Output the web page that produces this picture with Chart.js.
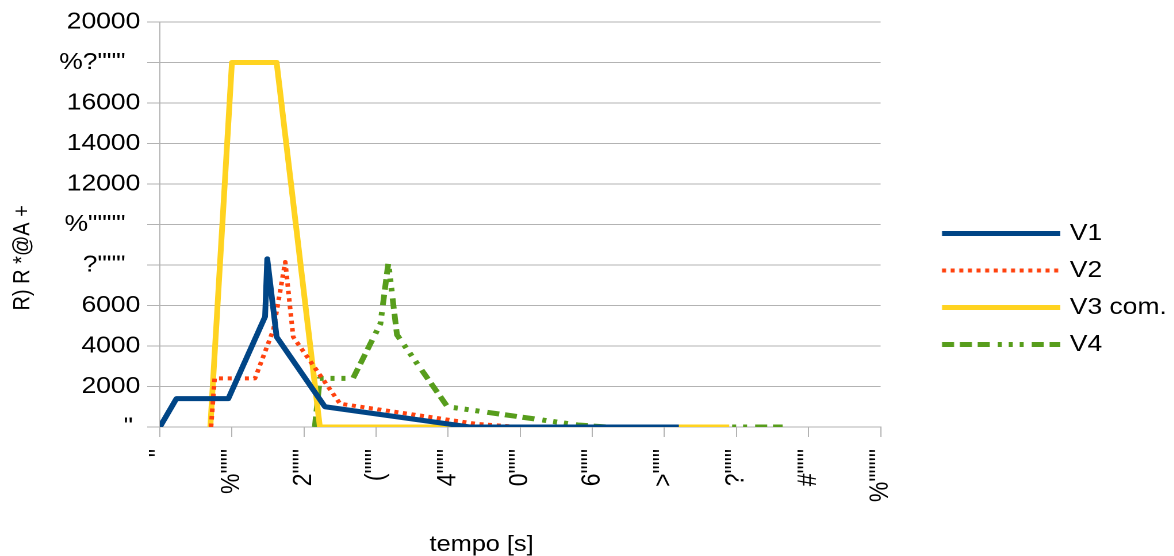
<!DOCTYPE html>
<html>
<head>
<meta charset="utf-8">
<script src="https://cdn.jsdelivr.net/npm/chart.js@4"></script>
<style>
  html, body { margin: 0; padding: 0; background: #fff; overflow: hidden; }
  /* the original picture is a bit wider than its text: stretch it the same way */
  #wrap { width: 1021px; height: 556px; transform: scaleX(1.15); transform-origin: 0 0; }
</style>
</head>
<body>
<div id="wrap"><canvas id="myChart"></canvas></div>
<script>
// tick labels exactly as they show up in the picture
const xTickLabels = ['"', '%"""', '2"""', '("""', '4"""', '0"""', '6"""', '>"""', '?"""', '#"""', '%""""'];
const yTickLabels = ['"', '2000', '4000', '6000', '?"""', '%""""', '12000', '14000', '16000', '%?"""', '20000'];

const v1X = [0, 230, 950, 1460, 1490, 1620, 2290, 4300, 7200];
const v1Y = [0, 1400, 1400, 5450, 8300, 4450, 1000, 0, 0];

const v2X = [710, 760, 1320, 1575, 1740, 1850, 2500, 4400, 5000, 7200];
const v2Y = [0, 2400, 2400, 4800, 8150, 4450, 1150, 150, 0, 0];

const v3X = [700, 1000, 1620, 2220, 7900];
const v3Y = [0, 18000, 18000, 0, 0];

const v4X = [2150, 2220, 2680, 3060, 3170, 3290, 3990, 5800, 6200, 8640];
const v4Y = [0, 2400, 2400, 5100, 8100, 4550, 1000, 100, 0, 0];

const dotted = [3.5, 4];
const dashDot = [10.5, 5, 10.5, 5, 10.5, 7, 3.5, 6, 3.5, 6, 3.5, 7];

function toPoints(xs, ys) {
  return xs.map((x, i) => ({ x: x, y: ys[i] }));
}

// legend sample picture: empty on the left (gap between plot and legend), then the line
const legendBox = 139; // room the legend keeps for the sample
const legendImgW = 145; // the picture pokes a bit into the text gap
const legendGap = 42.4;
function legendLine(color, width, dash) {
  return new Promise((resolve) => {
    const c = document.createElement("canvas");
    c.width = legendImgW * 2;
    c.height = 20;
    const g = c.getContext("2d");
    g.scale(2, 2);
    g.strokeStyle = color;
    g.lineWidth = width;
    g.setLineDash(dash);
    g.beginPath();
    g.moveTo(legendGap, 5);
    g.lineTo(legendImgW, 5);
    g.stroke();
    const img = new Image(legendImgW, 10);
    img.onload = () => resolve(img);
    img.src = c.toDataURL();
  });
}

Chart.defaults.font.family = "'Liberation Sans', Arial, sans-serif";
Chart.defaults.color = "#000";

const gridColor = "#b3b3b3";

Promise.all([
  legendLine("#004586", 5, []),
  legendLine("#ff420e", 4, dotted),
  legendLine("#ffd320", 5, []),
  legendLine("#579d1c", 5, dashDot),
]).then((icons) => {
  const ctx = document.getElementById("myChart").getContext("2d");
  new Chart(ctx, {
    type: "line",
    data: {
      datasets: [
        {
          label: "V1",
          data: toPoints(v1X, v1Y),
          borderColor: "#004586",
          borderWidth: 5,
          borderJoinStyle: "round",
          pointStyle: icons[0],
        },
        {
          label: "V2",
          data: toPoints(v2X, v2Y),
          borderColor: "#ff420e",
          borderWidth: 4,
          borderDash: dotted,
          borderJoinStyle: "round",
          pointStyle: icons[1],
        },
        {
          label: "V3 com.",
          data: toPoints(v3X, v3Y),
          borderColor: "#ffd320",
          borderWidth: 5,
          borderJoinStyle: "round",
          pointStyle: icons[2],
        },
        {
          label: "V4",
          data: toPoints(v4X, v4Y),
          borderColor: "#579d1c",
          borderWidth: 5,
          borderDash: dashDot,
          borderJoinStyle: "round",
          pointStyle: icons[3],
        },
      ],
    },
    options: {
      responsive: true,
      maintainAspectRatio: false,
      animation: false,
      devicePixelRatio: 2,
      layout: { padding: { top: 22, right: 0, bottom: 0, left: 0 } },
      elements: {
        point: { radius: 0 },
        line: { tension: 0, fill: false },
      },
      plugins: {
        legend: {
          position: "right",
          labels: {
            usePointStyle: true,
            pointStyleWidth: legendBox,
            padding: 14,
            font: { size: 23 },
          },
        },
        tooltip: { enabled: false },
      },
      scales: {
        x: {
          type: "linear",
          min: 0,
          max: 10000,
          ticks: {
            stepSize: 1000,
            autoSkip: false,
            maxRotation: 90,
            minRotation: 90,
            padding: 12,
            font: { size: 23 },
            callback: (value, index) => xTickLabels[index],
          },
          grid: { drawOnChartArea: false, color: gridColor, tickLength: 10 },
          border: { color: gridColor },
          title: {
            display: true,
            text: "tempo [s]" + " ".repeat(11),
            font: { size: 22, lineHeight: 1 },
            padding: { top: 0, bottom: 0 },
          },
          afterFit: (scale) => {
            scale.height = 129;
          },
        },
        y: {
          min: 0,
          max: 20000,
          ticks: {
            stepSize: 2000,
            padding: 6,
            font: { size: 23 },
            // the broken labels sit a little left of the plain numbers
            callback: (value, index) => {
              const label = yTickLabels[index];
              if (/^\d+$/.test(label)) return label;
              return label + (label.length > 1 ? "  " : " ");
            },
          },
          grid: { color: gridColor, tickLength: 11 },
          border: { color: gridColor },
          title: {
            display: true,
            text: "R) R *@A +" + " ".repeat(12),
            font: { size: 20 },
            padding: { top: 8, bottom: 0 },
          },
          afterFit: (scale) => {
            scale.width = 139;
          },
        },
      },
    },
  });
});
</script>
</body>
</html>
